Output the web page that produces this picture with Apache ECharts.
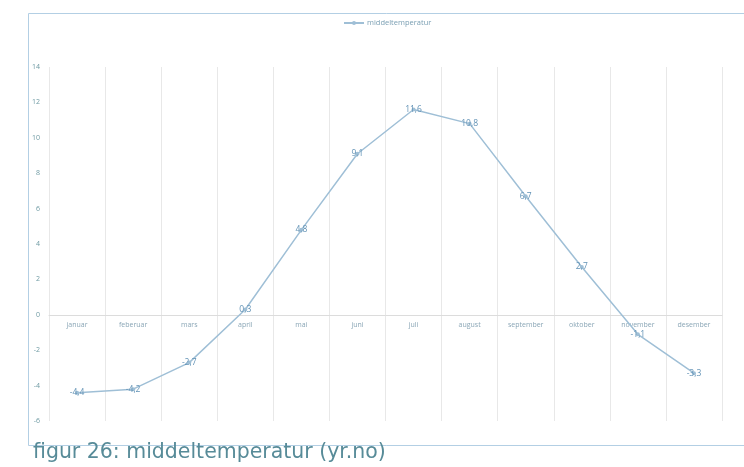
<!DOCTYPE html>
<html><head><meta charset="utf-8">
<script src="https://cdn.jsdelivr.net/npm/echarts@6/dist/echarts.min.js"></script>
<style>html,body{margin:0;padding:0;background:#fff}#c{width:744px;height:467px}</style>
</head><body><div id="c"></div>
<script>
const months = ['januar','feberuar','mars','april','mai','juni','juli','august','september','oktober','november','desember'];
const middeltemperatur = [-4.4, -4.2, -2.7, 0.3, 4.8, 9.1, 11.6, 10.8, 6.7, 2.7, -1.1, -3.3];
const seriesName = 'middeltemperatur';
const captionText = 'figur 26: middeltemperatur (yr.no)';
const yMin = -6, yMax = 14, yStep = 2;

// fit caption to reference width
const ctx = document.createElement('canvas').getContext('2d');
ctx.font = '20px "DejaVu Sans"';
const capSize = Math.min(22, 20 * 353 / ctx.measureText(captionText).width);

const gridTop = 67, gridBottom = 46, H = 467;
const plotH = H - gridTop - gridBottom;
const zeroOffset = -plotH * (0 - yMin) / (yMax - yMin);

const chart = echarts.init(document.getElementById('c'));
chart.setOption({
  animation: false,
  backgroundColor: '#fff',
  legend: {
    top: 14, left: 338,
    itemWidth: 20, itemHeight: 5, itemGap: 4,
    textStyle: { color: '#7a9fb3', fontSize: 7.5, fontFamily: 'Open Sans', padding: [0, 0, 0, -2] },
    data: [seriesName]
  },
  grid: { left: 49, right: 22, top: gridTop, bottom: gridBottom, containLabel: false },
  xAxis: [{
    type: 'category', data: months, boundaryGap: true,
    axisLine: { show: false },
    axisTick: { show: false },
    axisLabel: { show: false },
    splitLine: { show: true, interval: 0, lineStyle: { color: '#e8e8e8', width: 1 } }
  }, {
    type: 'category', data: months, boundaryGap: true, position: 'bottom',
    offset: zeroOffset,
    axisLine: { onZero: false, lineStyle: { color: '#dcdcdc', width: 1 } },
    axisTick: { show: false },
    axisLabel: { interval: 0, margin: 7, color: '#8aa6b6', fontSize: 7, fontFamily: 'Open Sans' },
    splitLine: { show: false }
  }],
  yAxis: {
    type: 'value', min: yMin, max: yMax, interval: yStep,
    axisLine: { show: false }, axisTick: { show: false },
    splitLine: { show: false },
    axisLabel: { margin: 9, color: '#6e9aa3', fontSize: 7, fontFamily: 'Open Sans' }
  },
  series: [{
    name: seriesName, type: 'line', data: middeltemperatur, xAxisIndex: 0,
    symbol: 'circle', symbolSize: 4, smooth: false,
    lineStyle: { color: '#9fbfd6', width: 1.5 },
    itemStyle: { color: '#9fbfd6' },
    label: {
      show: true, position: 'inside', color: '#6393b6', fontSize: 8.5, fontFamily: 'Open Sans',
      formatter: p => String(p.value).replace('.', ',')
    }
  }],
  graphic: [
    { type: 'rect', left: 26, top: 11, shape: { width: 740, height: 432 }, silent: true,
      style: { fill: 'none', stroke: '#b3cfe4', lineWidth: 1 } },
    { type: 'text', left: 33, top: 443, silent: true,
      style: { text: captionText, fill: '#578b98', font: capSize.toFixed(2) + 'px "DejaVu Sans"' } }
  ]
});
</script></body></html>
